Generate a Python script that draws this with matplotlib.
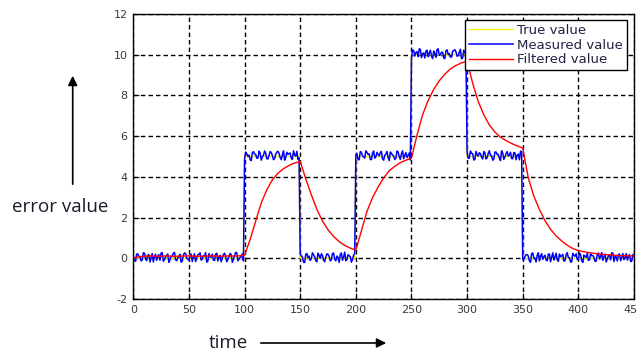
import numpy as np
import matplotlib
matplotlib.use("Agg")
import matplotlib.pyplot as plt

plt.rcParams["axes.unicode_minus"] = False

# -----------------------------
# data
# -----------------------------
# true value: constant levels between change times
step_edges = [0, 100, 150, 200, 250, 300, 350, 450]
step_levels = [0, 5, 0, 5, 10, 5, 0]

# measured value = true value + sensor noise, one sample per time unit
meas_time = np.arange(0, 451)
# noise at even times 0, 2, ..., 450
noise_even = [
    0.12, -0.15, 0.22, 0.05, -0.08, 0.25, -0.12, 0.18, 0.02, -0.18,
    0.2, 0.08, -0.1, 0.28, -0.05, 0.15, -0.2, 0.1, 0.24, -0.07,
    0.03, 0.19, -0.14, 0.26, 0.0, -0.11, 0.21, 0.07, -0.16, 0.17,
    0.27, -0.04, 0.11, -0.19, 0.23, 0.06, -0.09, 0.2, -0.13, 0.14,
    0.01, 0.25, -0.17, 0.09, 0.18, -0.06, 0.29, -0.12, 0.04, 0.22,
    -0.15, 0.13, 0.07, -0.2, 0.24, 0.1, -0.08, 0.16, -0.02, 0.27,
    -0.11, 0.05, 0.2, -0.16, 0.12, 0.26, -0.05, 0.08, -0.18, 0.21,
    0.15, -0.09, 0.28, 0.02, -0.14, 0.19, 0.06, -0.21, 0.23, 0.11,
    -0.03, 0.17, -0.12, 0.25, 0.0, 0.14, -0.17, 0.22, 0.09, -0.07,
    0.26, -0.13, 0.04, 0.18, -0.1, 0.3, -0.06, 0.12, -0.19, 0.16,
    0.08, -0.15, 0.24, 0.03, -0.08, 0.21, 0.13, -0.16, 0.27, -0.02,
    0.1, 0.19, -0.12, 0.06, 0.25, -0.2, 0.15, 0.01, -0.09, 0.23,
    -0.14, 0.28, 0.07, -0.05, 0.17, -0.18, 0.2, 0.11, -0.1, 0.26,
    0.04, -0.16, 0.22, 0.09, -0.07, 0.18, -0.13, 0.29, 0.0, 0.12,
    -0.19, 0.24, 0.06, -0.11, 0.2, 0.14, -0.04, 0.27, -0.15, 0.08,
    0.21, -0.08, 0.16, -0.17, 0.25, 0.02, 0.13, -0.12, 0.19, -0.06,
    0.28, 0.05, -0.14, 0.22, 0.1, -0.2, 0.17, -0.03, 0.24, 0.07,
    -0.1, 0.2, -0.16, 0.12, 0.26, -0.07, 0.09, 0.18, -0.13, 0.23,
    0.01, -0.18, 0.27, 0.11, -0.05, 0.15, -0.12, 0.21, 0.06, -0.09,
    0.25, -0.15, 0.08, 0.19, -0.11, 0.28, 0.03, -0.17, 0.14, 0.22,
    -0.06, 0.17, -0.2, 0.1, 0.24, -0.08, 0.13, 0.05, -0.14, 0.26,
    0.09, -0.1, 0.2, -0.04, 0.16, 0.27, -0.16, 0.07, 0.19, -0.12,
    0.23, 0.02, -0.09, 0.18, -0.13, 0.11,
]
# noise at odd times 1, 3, ..., 449
noise_odd = [
    -0.05, 0.2, 0.09, -0.13, 0.27, -0.02, 0.15, -0.18, 0.23, 0.06,
    -0.1, 0.18, 0.26, -0.15, 0.04, 0.21, -0.07, 0.12, 0.29, -0.12,
    0.08, -0.19, 0.16, 0.24, -0.03, 0.11, -0.16, 0.22, 0.01, 0.19,
    -0.09, 0.13, 0.28, -0.14, 0.07, 0.2, -0.11, 0.25, 0.03, -0.17,
    0.18, 0.1, -0.06, 0.23, -0.2, 0.14, 0.27, -0.04, 0.09, -0.13,
    0.22, 0.0, -0.15, 0.19, 0.12, -0.08, 0.26, -0.18, 0.06, 0.16,
    -0.12, 0.24, 0.04, -0.1, 0.21, 0.15, -0.16, 0.28, -0.03, 0.1,
    0.17, -0.14, 0.07, 0.25, -0.06, 0.13, -0.19, 0.2, 0.02, -0.11,
    0.27, 0.08, -0.17, 0.14, 0.22, -0.09, 0.05, 0.19, -0.13, 0.24,
    -0.04, 0.11, -0.2, 0.26, 0.06, -0.12, 0.18, 0.09, -0.07, 0.23,
    0.14, -0.16, 0.21, -0.02, 0.28, 0.1, -0.13, 0.16, -0.08, 0.2,
    0.03, 0.25, -0.18, 0.12, -0.05, 0.22, 0.07, -0.15, 0.27, -0.01,
    0.13, -0.11, 0.19, 0.05, -0.17, 0.24, -0.06, 0.15, 0.29, -0.14,
    0.09, 0.18, -0.1, 0.22, -0.19, 0.06, 0.26, -0.03, 0.12, -0.16,
    0.2, 0.01, -0.12, 0.17, 0.25, -0.07, 0.11, -0.2, 0.23, 0.04,
    -0.09, 0.27, 0.14, -0.15, 0.08, 0.19, -0.04, 0.24, -0.12, 0.16,
    0.05, -0.18, 0.22, 0.1, -0.08, 0.28, -0.14, 0.13, 0.02, 0.21,
    -0.11, 0.17, 0.07, -0.16, 0.25, -0.05, 0.18, 0.11, -0.2, 0.26,
    0.0, 0.15, -0.13, 0.23, 0.08, -0.09, 0.2, -0.17, 0.27, 0.06,
    -0.07, 0.21, 0.12, -0.14, 0.18, 0.03, -0.19, 0.24, 0.1, -0.06,
    0.26, -0.12, 0.16, 0.05, -0.1, 0.22, 0.14, -0.15, 0.19, -0.03,
    0.28, 0.07, -0.18, 0.13, -0.08, 0.25, 0.09, -0.13, 0.2, 0.04,
    -0.06, 0.23, 0.11, -0.16, 0.18,
]

# filtered value, read every 5 time units
filt_time = np.arange(0, 451, 5)
filt_value = [
    0.0, 0.08, 0.1, 0.12, 0.1, 0.1, 0.12, 0.1, 0.1, 0.11,
    0.12, 0.1, 0.1, 0.11, 0.12, 0.11, 0.1, 0.12, 0.11, 0.12,
    0.15, 0.92, 1.83, 2.72, 3.37, 3.85, 4.18, 4.4, 4.56, 4.68,
    4.76, 3.9, 3.12, 2.4, 1.83, 1.4, 1.07, 0.82, 0.63, 0.5,
    0.4, 1.35, 2.3, 2.98, 3.5, 3.95, 4.3, 4.52, 4.7, 4.82,
    4.92, 6.05, 7.05, 7.75, 8.3, 8.72, 9.05, 9.3, 9.47, 9.6,
    9.68, 8.6, 7.7, 7.05, 6.55, 6.2, 5.95, 5.78, 5.64, 5.52,
    5.42, 3.95, 3.05, 2.4, 1.85, 1.42, 1.1, 0.85, 0.64, 0.48,
    0.38, 0.32, 0.27, 0.24, 0.2, 0.18, 0.16, 0.14, 0.13, 0.12,
    0.12,
]

x_ticks = [0, 50, 100, 150, 200, 250, 300, 350, 400, 450]
y_ticks = [-2, 0, 2, 4, 6, 8, 10, 12]

# -----------------------------
# build series
# -----------------------------
idx = np.searchsorted(step_edges, meas_time, side="right") - 1
idx = np.clip(idx, 0, len(step_levels) - 1)
true_at_t = np.array(step_levels, dtype=float)[idx]

noise = np.zeros(len(meas_time))
noise[0::2] = noise_even
noise[1::2] = noise_odd
measured = true_at_t + noise

# -----------------------------
# plot
# -----------------------------
W, H = 637, 354
fig = plt.figure(figsize=(W / 100, H / 100), dpi=100)
ax = fig.add_axes([133.3 / W, 1 - 299 / H, (634 - 133.3) / W, (299 - 14) / H])

ax.plot(meas_time, true_at_t, color="#f0f000", lw=1.0, label="True value")
ax.plot(meas_time, measured, color="#0000ff", lw=1.1, label="Measured value")
ax.plot(filt_time, filt_value, color="#ff0000", lw=1.0, label="Filtered value")

ax.set_xlim(0, 450)
ax.set_ylim(-2, 12)
ax.set_xticks(x_ticks)
ax.set_yticks(y_ticks)
ax.tick_params(direction="in", length=4, width=0.8, labelsize=8,
               labelcolor="#3a3a3a", pad=4)
ax.grid(True, color="black", linestyle=(0, (3.2, 2.2)), lw=1.0)
for s in ax.spines.values():
    s.set_color("black")
    s.set_linewidth(1.0)

leg = ax.legend(loc="upper right", bbox_to_anchor=(0.986, 0.979),
                fontsize=9.5, frameon=True, fancybox=False, framealpha=1,
                edgecolor="black", handlelength=3.4, handletextpad=0.3,
                labelspacing=0.14, borderpad=0.28, borderaxespad=0)
leg.get_frame().set_linewidth(1.0)
for txt in leg.get_texts():
    txt.set_color("#222244")

# axis annotations with arrows
fig.text(12 / W, 1 - 212 / H, "error value", fontsize=13.5, family="Open Sans",
         color="#1a1a2a", ha="left", va="baseline")
ax.annotate("", xy=(72.7, H - 73), xytext=(72.7, H - 187),
            xycoords="figure pixels", textcoords="figure pixels",
            arrowprops=dict(arrowstyle="-|>", color="black", lw=1.2,
                            mutation_scale=14))
fig.text(209 / W, 1 - 348 / H, "time", fontsize=13.5, family="Open Sans",
         color="#1a1a2a", ha="left", va="baseline")
ax.annotate("", xy=(389, H - 343), xytext=(258, H - 343),
            xycoords="figure pixels", textcoords="figure pixels",
            arrowprops=dict(arrowstyle="-|>", color="black", lw=1.2,
                            mutation_scale=14))

fig.savefig("out.png", dpi=100)
